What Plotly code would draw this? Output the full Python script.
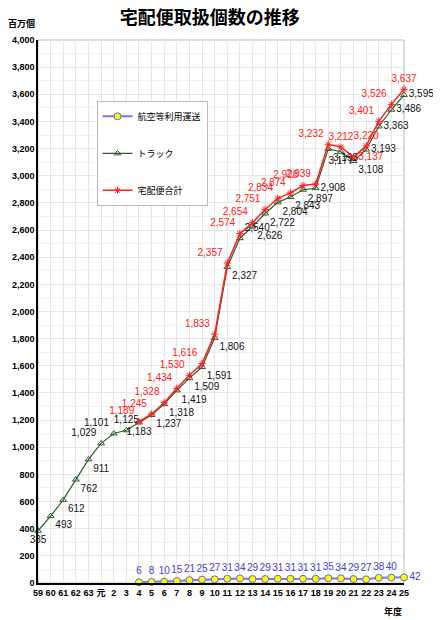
import plotly.graph_objects as go

years = ["59", "60", "61", "62", "63", "元"] + [str(i) for i in range(2, 26)]

truck = [385, 493, 612, 762, 911, 1029, 1101, 1125, 1183, 1237, 1318, 1419, 1509, 1591, 1806,
         2327, 2540, 2626, 2722, 2804, 2843, 2897, 2908, 3198, 3177, 3108, 3193, 3363, 3486, 3595]
# 航空等利用運送 and total start at 平成4
air = [6, 8, 10, 15, 21, 25, 27, 31, 34, 29, 29, 31, 31, 31, 31, 35, 34, 29, 27, 38, 40, 42]
total = [1189, 1245, 1328, 1434, 1530, 1616, 1833, 2357, 2574, 2654, 2751, 2834, 2874, 2928,
         2939, 3232, 3212, 3137, 3220, 3401, 3526, 3637]
later = years[8:]

FONT = "Liberation Sans, Noto Sans CJK JP, sans-serif"

def fmt(v):
    return f"{v:,}"

truck_pos = ["bottom center", "bottom right", "bottom right", "bottom right", "bottom right",
             "top left", "top left", "top center", "bottom center", "bottom right",
             "bottom right", "bottom right", "bottom right", "bottom right", "bottom right",
             "bottom right", "top right", "bottom right", "bottom right", "bottom right",
             "bottom right", "bottom right", "middle right", "bottom right", "bottom center",
             "bottom right", "middle right", "middle right", "middle right", "middle right"]
total_pos = ["top left"] * 22
total_pos[16] = "top center"
total_pos[17] = "middle right"
total_pos[18] = "top center"
total_pos[21] = "top center"
air_pos = ["top center"] * 22
air_pos[21] = "middle right"

fig = go.Figure()
fig.add_trace(go.Scatter(
    x=later, y=air, name="航空等利用運送", mode="lines+markers+text", cliponaxis=False,
    line=dict(color="#7777ee", width=2),
    marker=dict(symbol="circle", size=7, color="#ffff00", line=dict(color="#6666cc", width=1)),
    text=[fmt(v) for v in air], textposition=air_pos,
    textfont=dict(color="#4444cc", size=10, family=FONT), legendgroup="a"))
fig.add_trace(go.Scatter(
    x=years, y=truck, name="トラック", mode="lines+markers+text", cliponaxis=False,
    line=dict(color="#2f5f2f", width=1.2),
    marker=dict(symbol="triangle-up-open", size=6, color="#2f5f2f"),
    text=[fmt(v) for v in truck], textposition=truck_pos,
    textfont=dict(color="#111111", size=10, family=FONT), legendgroup="b"))
fig.add_trace(go.Scatter(
    x=later, y=total, name="宅配便合計", mode="lines+markers+text", cliponaxis=False,
    line=dict(color="#ff2020", width=1.5),
    marker=dict(symbol="asterisk-open", size=6, color="#ff2020", line=dict(width=1, color="#ff2020")),
    text=[fmt(v) for v in total], textposition=total_pos,
    textfont=dict(color="#ff2020", size=10, family=FONT), legendgroup="c"))

# the page body has an 8px margin, so the figure is shrunk by that amount
fig.update_layout(
    width=433, height=612,
    margin=dict(l=30, r=37, t=32, b=37),
    paper_bgcolor="white", plot_bgcolor="white",
    font=dict(family=FONT, size=9, color="black"),
    title=dict(text="<b>宅配便取扱個数の推移</b>", x=0.466, xanchor="center", y=0.995, yanchor="top",
               font=dict(size=18, family="Noto Sans CJK JP", color="black"), automargin=False),
    showlegend=True,
    legend=dict(x=0.16, y=0.888, xanchor="left", yanchor="top", bgcolor="white",
                bordercolor="#bbbbbb", borderwidth=1, tracegroupgap=18, itemwidth=30,
                font=dict(size=9, family=FONT), traceorder="grouped"),
    xaxis=dict(type="category", categoryorder="array", categoryarray=years,
               range=[0, 29], showgrid=True, gridcolor="#e6e6e6", automargin=False,
               showline=True, linecolor="black", linewidth=1.5, mirror=False,
               tickfont=dict(size=9, family=FONT, weight="bold"), ticks="", fixedrange=True),
    yaxis=dict(range=[0, 4000], dtick=200, tickformat=",", showgrid=True, gridcolor="#e6e6e6",
               minor=dict(dtick=100, showgrid=True, gridcolor="#f0f0f0"), automargin=False,
               showline=True, linecolor="black", linewidth=1.5, zeroline=False,
               tickfont=dict(size=9, family=FONT, weight="bold"), ticks=""),
    shapes=[dict(type="rect", xref="paper", yref="paper", x0=0, x1=1, y0=0, y1=1,
                 line=dict(color="#bbbbbb", width=1), layer="below")],
    annotations=[
        dict(text="<b>百万個</b>", xref="paper", yref="paper", x=-0.045, y=1.031,
             xanchor="center", yanchor="middle", showarrow=False, font=dict(size=9)),
        dict(text="<b>年度</b>", xref="paper", yref="paper", x=0.97, y=-0.052,
             xanchor="center", yanchor="middle", showarrow=False, font=dict(size=9)),
    ],
)

fig.write_html("out.html")
